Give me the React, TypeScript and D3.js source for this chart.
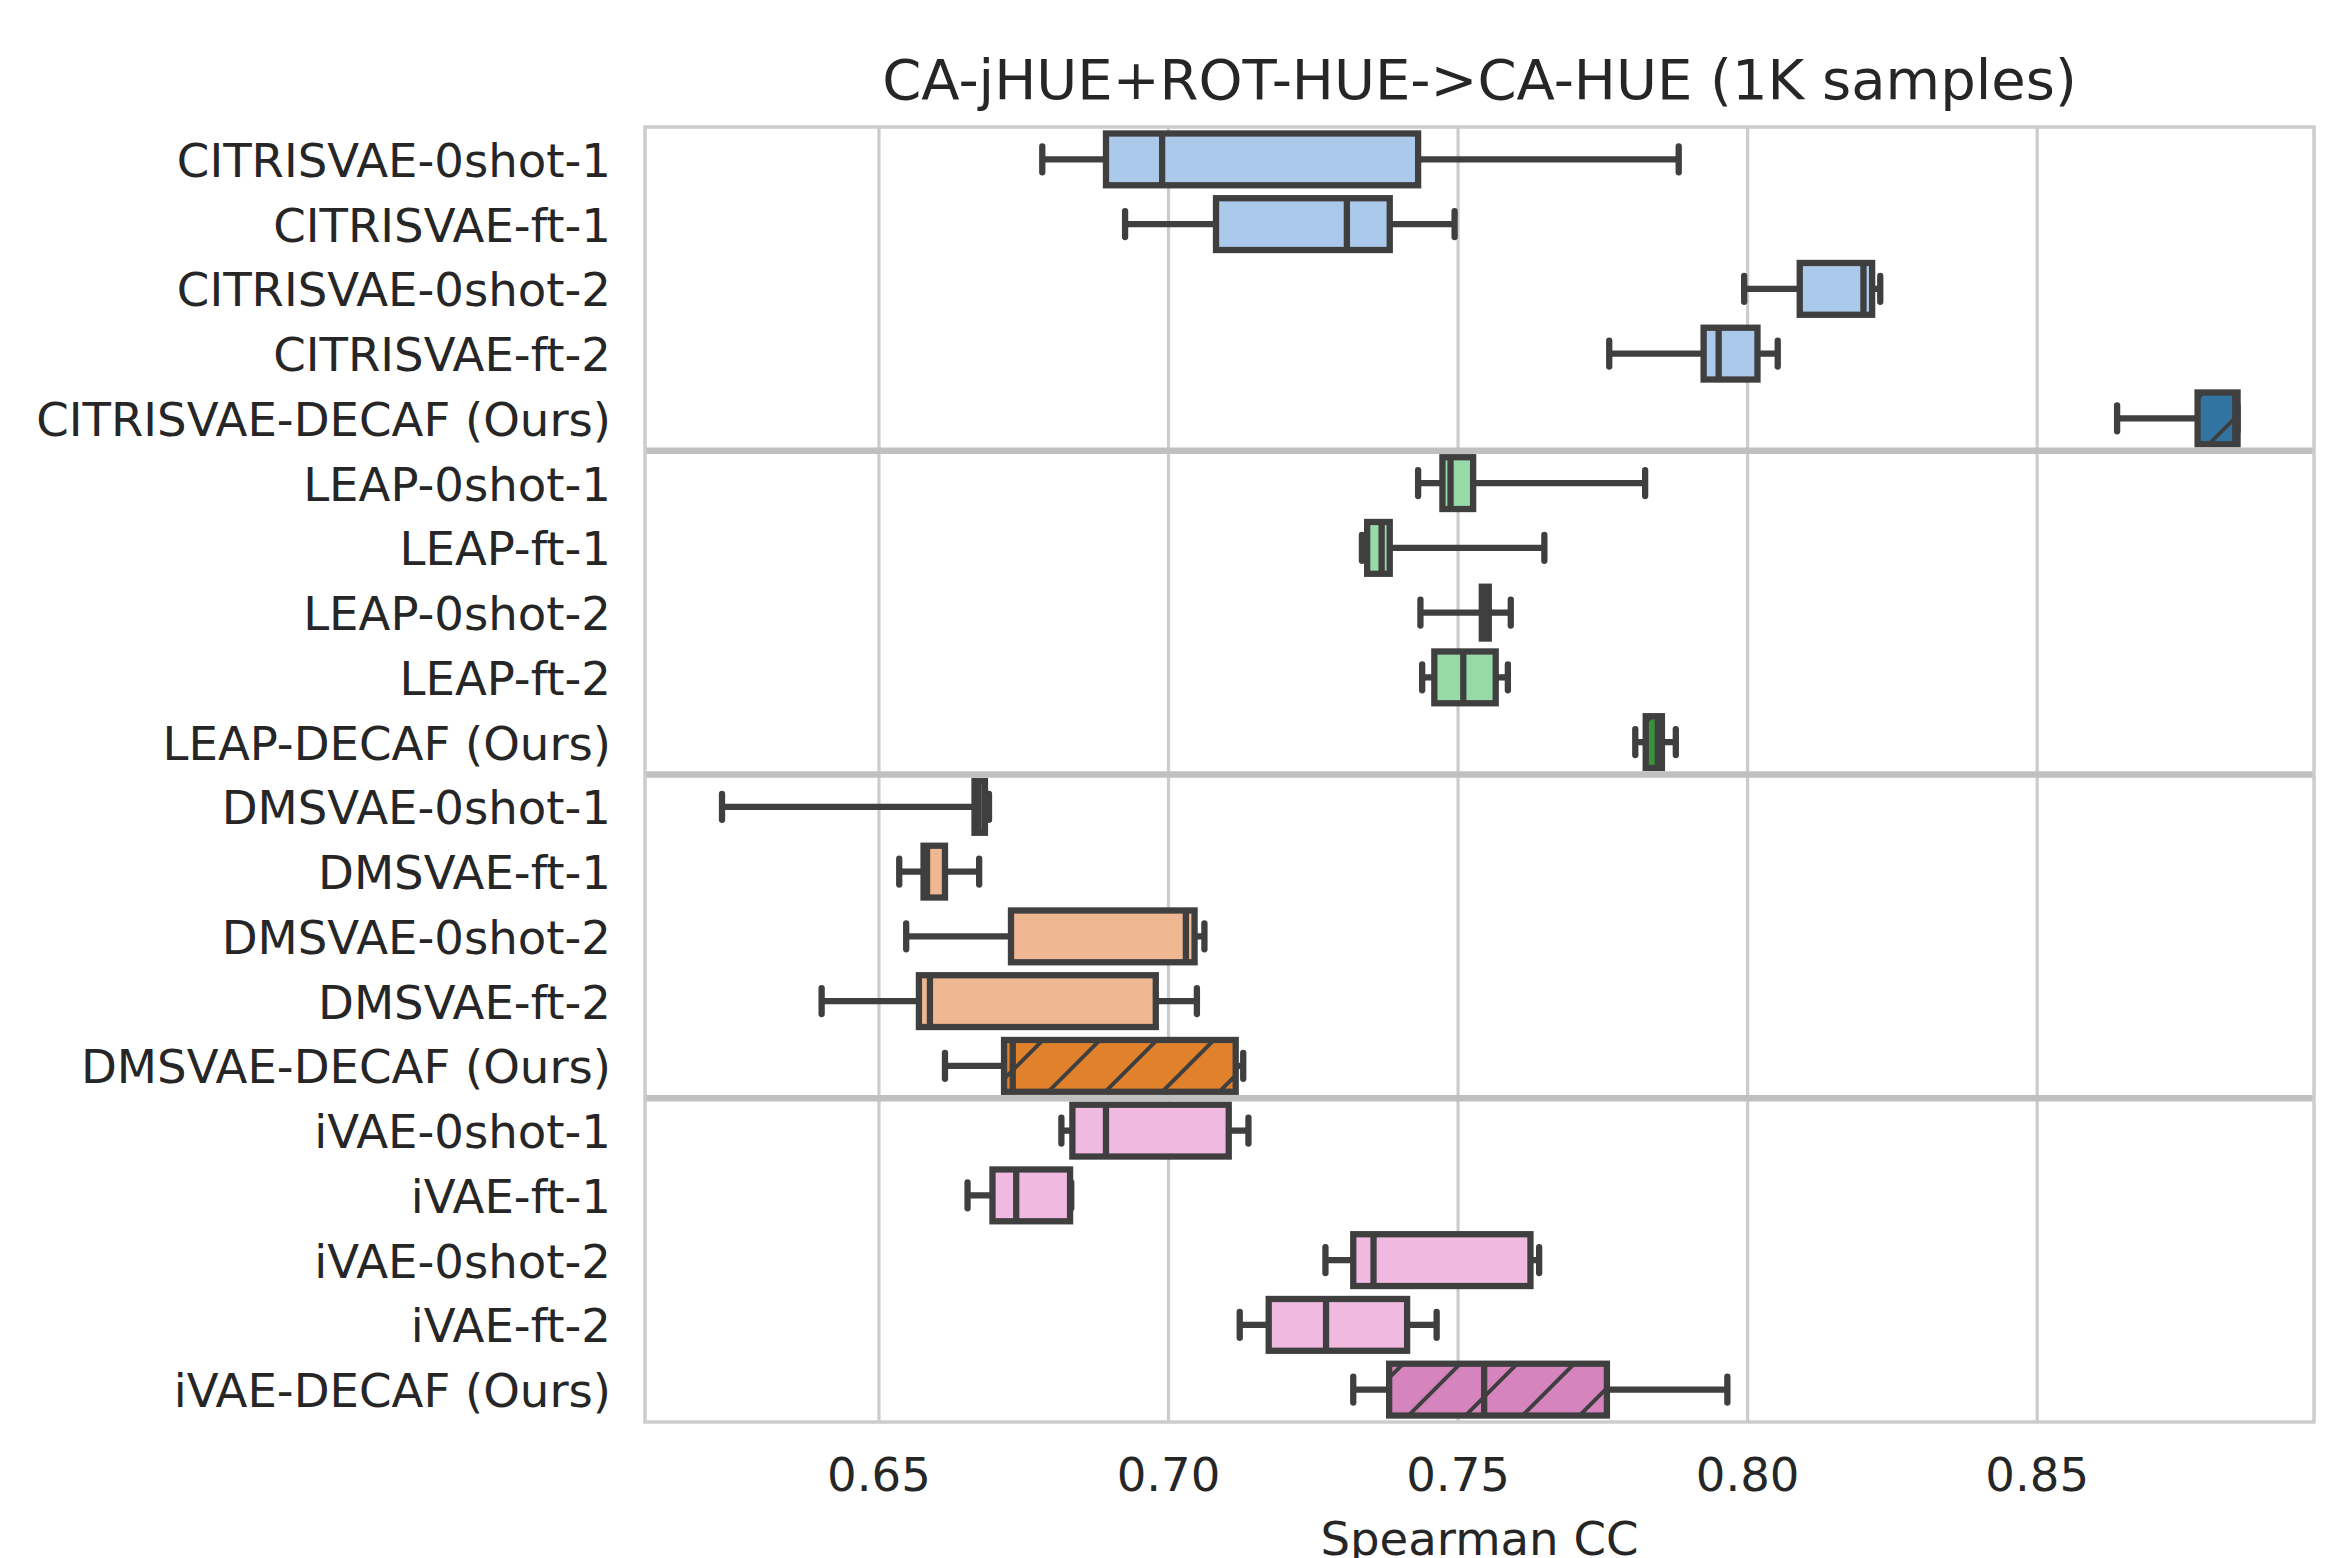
import React from "react";
import * as d3 from "d3";

const categories = [
  "CITRISVAE-0shot-1", "CITRISVAE-ft-1", "CITRISVAE-0shot-2", "CITRISVAE-ft-2", "CITRISVAE-DECAF (Ours)",
  "LEAP-0shot-1", "LEAP-ft-1", "LEAP-0shot-2", "LEAP-ft-2", "LEAP-DECAF (Ours)",
  "DMSVAE-0shot-1", "DMSVAE-ft-1", "DMSVAE-0shot-2", "DMSVAE-ft-2", "DMSVAE-DECAF (Ours)",
  "iVAE-0shot-1", "iVAE-ft-1", "iVAE-0shot-2", "iVAE-ft-2", "iVAE-DECAF (Ours)",
];

// whisker low, Q1, median, Q3, whisker high
const whiskerLo = [0.6782, 0.6925, 0.7994, 0.7761, 0.8638, 0.7431, 0.7334, 0.7435, 0.7438, 0.7806, 0.6229, 0.6535, 0.6547, 0.6401, 0.6614, 0.6815, 0.6653, 0.7271, 0.7123, 0.7319];
const q1 = [0.6892, 0.7082, 0.8090, 0.7924, 0.8777, 0.7473, 0.7343, 0.7541, 0.7459, 0.7824, 0.6665, 0.6577, 0.6728, 0.6569, 0.6716, 0.6834, 0.6696, 0.7319, 0.7173, 0.7381];
const median = [0.6989, 0.7308, 0.8200, 0.7950, 0.8842, 0.7487, 0.7368, 0.7547, 0.7509, 0.7845, 0.6672, 0.6583, 0.7030, 0.6588, 0.6731, 0.6892, 0.6737, 0.7354, 0.7272, 0.7545];
const q3 = [0.7431, 0.7382, 0.8215, 0.8017, 0.8846, 0.7526, 0.7382, 0.7553, 0.7565, 0.7852, 0.6683, 0.6614, 0.7045, 0.6978, 0.7116, 0.7104, 0.6830, 0.7625, 0.7412, 0.7757];
const whiskerHi = [0.7881, 0.7494, 0.8229, 0.8052, 0.8846, 0.7823, 0.7649, 0.7591, 0.7586, 0.7876, 0.6690, 0.6673, 0.7062, 0.7049, 0.7129, 0.7138, 0.6832, 0.7640, 0.7463, 0.7965];

const fillColors = [
  "#abc9ea", "#abc9ea", "#abc9ea", "#abc9ea", "#3274a1",
  "#98daa7", "#98daa7", "#98daa7", "#98daa7", "#3a923a",
  "#efb792", "#efb792", "#efb792", "#efb792", "#e1812c",
  "#f0b9e0", "#f0b9e0", "#f0b9e0", "#f0b9e0", "#d684bd",
];
const hatched = categories.map((c) => c.includes("DECAF"));

const xTicks = [0.65, 0.7, 0.75, 0.8, 0.85];
const separatorsAfter = [4, 9, 14];

const title = "CA-jHUE+ROT-HUE->CA-HUE (1K samples)";
const xLabel = "Spearman CC";

const W = 2335;
const H = 1558;
const L = 645;
const R = 2314;
const T = 127;
const B = 1422;
const FONT = "DejaVu Sans";
const EDGE = "#3f3f3f";
const LW = 6.3;
const P = 57;

export default function App() {
  const x = d3.scaleLinear().domain([0.6096, 0.8978]).range([L, R]);
  const y = d3.scaleBand<string>().domain(categories).range([T, B]).padding(0);
  const bw = y.bandwidth();
  const boxH = bw * 0.8;
  const capH = boxH / 2;

  return (
    <svg
      width={W}
      height={H}
      style={{ position: "absolute", left: 0, top: 0, background: "#fff" }}
      fontFamily={FONT}
    >
      <defs>
        <pattern id="hatch" patternUnits="userSpaceOnUse" width={P} height={P} x={31} y={0}>
          <path
            d={`M0,${P} L${P},0 M${-P / 2},${P / 2} L${P / 2},${-P / 2} M${P / 2},${P * 1.5} L${P * 1.5},${P / 2}`}
            stroke={EDGE}
            strokeWidth={4}
          />
        </pattern>
      </defs>
      <rect x={0} y={0} width={W} height={H} fill="#fff" />
      {xTicks.map((t) => (
        <line key={t} x1={x(t)} x2={x(t)} y1={T} y2={B} stroke="#cccccc" strokeWidth={3.2} />
      ))}
      {categories.map((c, i) => {
        const cy = (y(c) as number) + bw / 2;
        const x0 = x(q1[i]);
        const x1 = x(q3[i]);
        return (
          <g key={c}>
            <line x1={x(whiskerLo[i])} x2={x0} y1={cy} y2={cy} stroke={EDGE} strokeWidth={LW} />
            <line x1={x1} x2={x(whiskerHi[i])} y1={cy} y2={cy} stroke={EDGE} strokeWidth={LW} />
            <line x1={x(whiskerLo[i])} x2={x(whiskerLo[i])} y1={cy - capH / 2} y2={cy + capH / 2} stroke={EDGE} strokeWidth={LW} strokeLinecap="round" />
            <line x1={x(whiskerHi[i])} x2={x(whiskerHi[i])} y1={cy - capH / 2} y2={cy + capH / 2} stroke={EDGE} strokeWidth={LW} strokeLinecap="round" />
            <rect x={x0} y={cy - boxH / 2} width={Math.max(0, x1 - x0)} height={boxH} fill={fillColors[i]} />
            {hatched[i] && (
              <rect x={x0} y={cy - boxH / 2} width={Math.max(0, x1 - x0)} height={boxH} fill="url(#hatch)" />
            )}
            <rect x={x0} y={cy - boxH / 2} width={Math.max(0, x1 - x0)} height={boxH} fill="none" stroke={EDGE} strokeWidth={LW} />
            <line x1={x(median[i])} x2={x(median[i])} y1={cy - boxH / 2} y2={cy + boxH / 2} stroke={EDGE} strokeWidth={LW} />
          </g>
        );
      })}
      {separatorsAfter.map((k) => {
        const sy = (y(categories[k]) as number) + bw;
        return <line key={k} x1={L} x2={R} y1={sy} y2={sy} stroke="#c0c0c0" strokeWidth={6.3} />;
      })}
      <rect x={L} y={T} width={R - L} height={B - T} fill="none" stroke="#cccccc" strokeWidth={3.5} />
      {categories.map((c) => (
        <text key={c} x={611} y={(y(c) as number) + bw / 2 + 17.5} textAnchor="end" fontSize={46.6} fill="#262626">
          {c}
        </text>
      ))}
      {xTicks.map((t) => (
        <text key={t} x={x(t)} y={1491} textAnchor="middle" fontSize={46.6} fill="#262626">
          {t.toFixed(2)}
        </text>
      ))}
      <text x={(L + R) / 2} y={1555} textAnchor="middle" fontSize={46.6} fill="#262626">
        {xLabel}
      </text>
      <text x={(L + R) / 2} y={99} textAnchor="middle" fontSize={56} fill="#262626">
        {title}
      </text>
    </svg>
  );
}
